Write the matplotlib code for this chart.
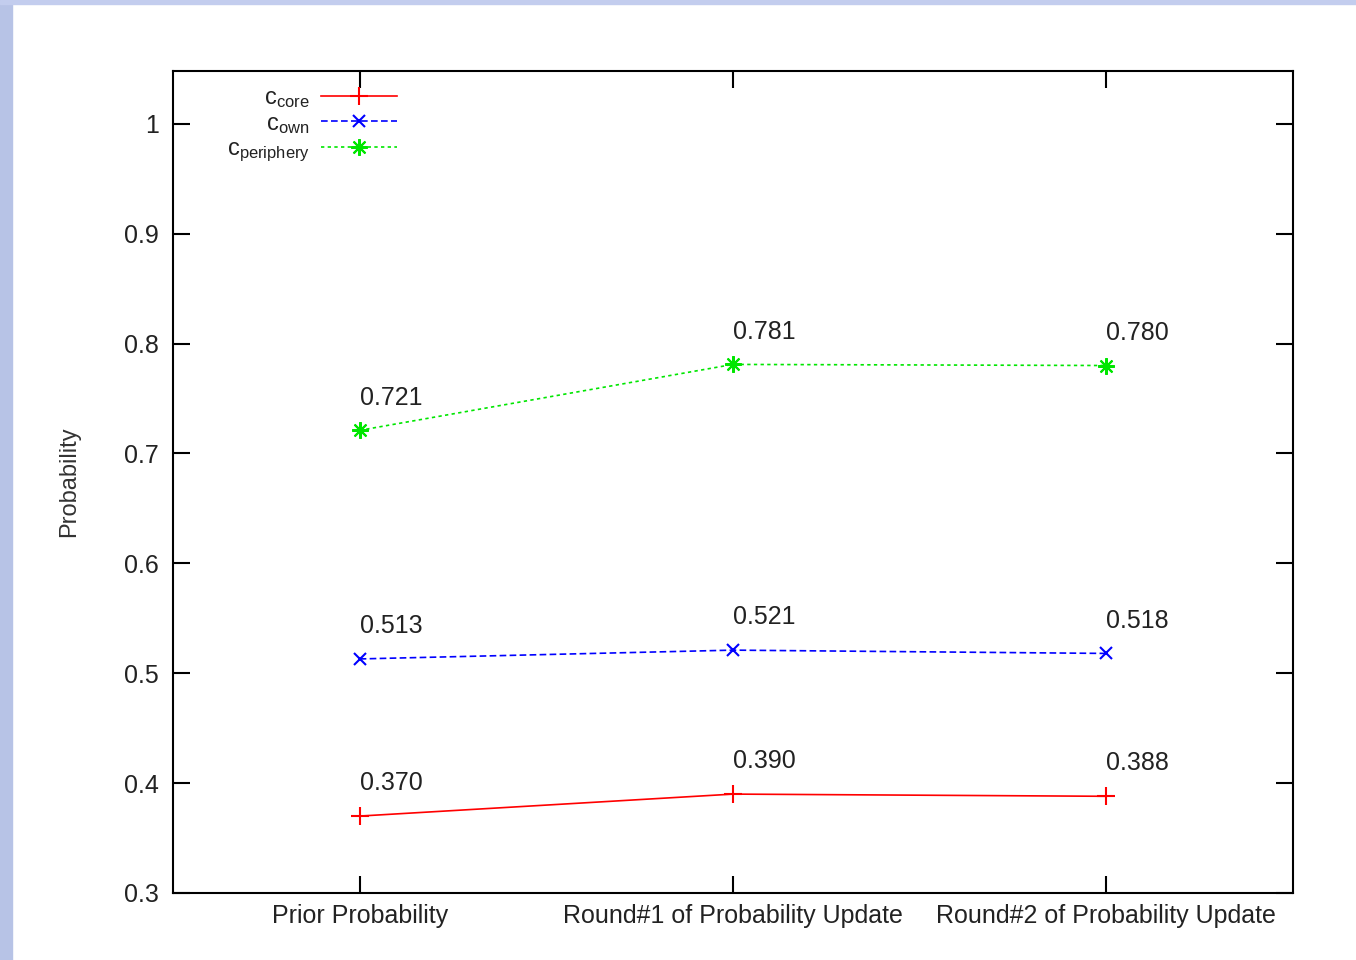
import matplotlib
matplotlib.use("Agg")
import matplotlib.pyplot as plt
from matplotlib.patches import Rectangle

stages = ["Prior Probability", "Round#1 of Probability Update", "Round#2 of Probability Update"]
c_core = [0.370, 0.390, 0.388]
c_own = [0.513, 0.521, 0.518]
c_periphery = [0.721, 0.781, 0.780]

plt.rcParams['font.family'] = ['Liberation Sans', 'DejaVu Sans']
plt.rcParams['mathtext.fontset'] = 'custom'
plt.rcParams['mathtext.rm'] = 'Liberation Sans'

fig = plt.figure(figsize=(13.56, 9.6), dpi=100)

# slide background strip on the left / top
fig.patches.append(Rectangle((0, 0), 12 / 1356, 1, transform=fig.transFigure, color='#b7c3e6', zorder=0))
fig.patches.append(Rectangle((0, 1 - 4 / 960), 1, 4 / 960, transform=fig.transFigure, color='#c3cdee', zorder=0))

ax = fig.add_axes([173 / 1356, 1 - 893 / 960, 1120 / 1356, 822 / 960])
x = range(len(stages))

ax.plot(x, c_core, color='#ff0000', lw=1.2, marker='+', ms=13, mew=1.5,
        label=r'$\mathregular{c_{core}}$')
ax.plot(x, c_own, color='#0000ff', lw=1.2, ls=(0, (4, 2)), marker='x', ms=8, mew=1.5,
        label=r'$\mathregular{c_{own}}$')
ax.plot(x, c_periphery, color='#00e600', lw=1.2, ls=(0, (2, 2)), marker=(8, 2, 0), ms=12, mew=1.5,
        label=r'$\mathregular{c_{periphery}}$')

for series in (c_core, c_own, c_periphery):
    for i, v in enumerate(series):
        ax.annotate("%.3f" % v, (i, v), xytext=(0, 15), textcoords='offset points',
                    ha='left', va='bottom', fontsize=18, color='#222222')

ax.set_xlim(-0.5, 2.5)
ax.set_ylim(0.3, 1.048)
ax.set_xticks(list(x))
ax.set_xticklabels(stages)
ax.set_yticks([0.3, 0.4, 0.5, 0.6, 0.7, 0.8, 0.9, 1.0])
ax.set_yticklabels(['0.3', '0.4', '0.5', '0.6', '0.7', '0.8', '0.9', '1'])
ax.tick_params(direction='in', length=12, width=1.5, top=True, right=True,
               labelsize=18, labelcolor='#222222', pad=10)
ax.tick_params(axis='x', pad=8)
for s in ax.spines.values():
    s.set_linewidth(1.5)

ax.set_ylabel("Probability", fontsize=17, color='#333333', labelpad=32)

leg = ax.legend(loc='upper left', bbox_to_anchor=(0.031, 1.003), frameon=False, markerfirst=False,
                fontsize=17, handlelength=3.2, labelspacing=0.1, handletextpad=0.5, borderpad=0.3)
for t in leg.get_texts():
    t.set_color('#222222')

fig.savefig("out.png", dpi=100)
